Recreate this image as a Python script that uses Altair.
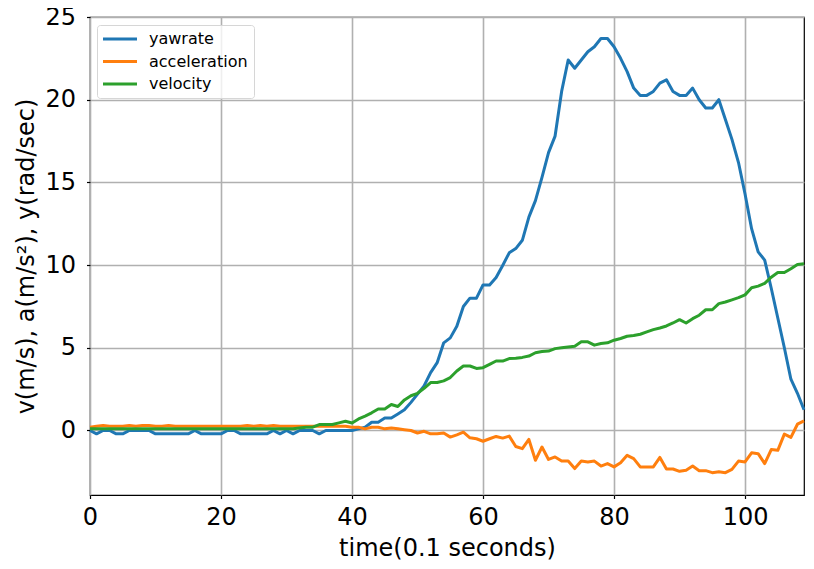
import altair as alt
import pandas as pd

t = list(range(110))

yawrate = [0, -0.2, 0, 0, -0.2, -0.2, 0, 0, 0, 0,
           -0.2, -0.2, -0.2, -0.2, -0.2, -0.2, 0, -0.2, -0.2, -0.2,
           -0.2, 0, 0, -0.2, -0.2, -0.2, -0.2, -0.2, 0, -0.2,
           0, -0.2, 0, 0, 0, -0.2, 0, 0, 0, 0,
           0, 0.1, 0.2, 0.5, 0.5, 0.75, 0.75, 1.0, 1.25, 1.7,
           2.2, 2.7, 3.5, 4.1, 5.3, 5.6, 6.3, 7.5, 8.0, 8.0,
           8.8, 8.8, 9.25, 9.98, 10.74, 11.0, 11.5, 12.9, 13.9, 15.3,
           16.8, 17.8, 20.5, 22.4, 21.9, 22.4, 22.9, 23.2, 23.7, 23.7,
           23.2, 22.5, 21.7, 20.7, 20.26, 20.26, 20.5, 21.0, 21.2, 20.5,
           20.26, 20.26, 20.7, 20.0, 19.5, 19.5, 20.0, 18.8, 17.6, 16.2,
           14.3, 12.2, 10.8, 10.3, 8.6, 6.8, 5.0, 3.1, 2.25, 1.25]

acceleration = [0.2, 0.25, 0.3, 0.25, 0.25, 0.25, 0.3, 0.25, 0.3, 0.3,
                0.25, 0.25, 0.3, 0.25, 0.25, 0.25, 0.25, 0.25, 0.25, 0.25,
                0.25, 0.25, 0.25, 0.25, 0.3, 0.25, 0.3, 0.25, 0.3, 0.25,
                0.25, 0.25, 0.25, 0.25, 0.25, 0.25, 0.25, 0.25, 0.25, 0.25,
                0.2, 0.2, 0.1, 0.2, 0.2, 0.1, 0.15, 0.1, 0.05, 0.0,
                -0.15, -0.05, -0.2, -0.2, -0.15, -0.4, -0.26, -0.1, -0.44, -0.5,
                -0.65, -0.5, -0.36, -0.46, -0.34, -0.97, -1.1, -0.54, -1.8, -1.0,
                -1.75, -1.6, -1.85, -1.85, -2.3, -1.85, -1.9, -1.85, -2.15, -2.0,
                -2.2, -1.95, -1.5, -1.7, -2.2, -2.2, -2.2, -1.63, -2.33, -2.33,
                -2.47, -2.4, -2.15, -2.43, -2.43, -2.55, -2.5, -2.55, -2.35, -1.85,
                -1.9, -1.35, -1.4, -2.0, -1.15, -1.2, -0.22, -0.42, 0.38, 0.58]

velocity = [0.1, 0.1, 0.1, 0.1, 0.1, 0.1, 0.1, 0.1, 0.1, 0.1,
            0.1, 0.1, 0.1, 0.1, 0.1, 0.1, 0.1, 0.1, 0.1, 0.1,
            0.1, 0.1, 0.1, 0.1, 0.1, 0.1, 0.1, 0.1, 0.1, 0.1,
            0.1, 0.1, 0.15, 0.2, 0.2, 0.36, 0.36, 0.36, 0.46, 0.56,
            0.45, 0.7, 0.87, 1.07, 1.3, 1.3, 1.57, 1.45, 1.85, 2.1,
            2.25, 2.55, 2.9, 2.9, 3.0, 3.2, 3.6, 3.9, 3.9, 3.75,
            3.8, 4.0, 4.2, 4.2, 4.35, 4.37, 4.42, 4.5, 4.7, 4.77,
            4.8, 4.95, 5.0, 5.05, 5.1, 5.36, 5.36, 5.16, 5.26, 5.3,
            5.46, 5.56, 5.7, 5.74, 5.82, 5.96, 6.1, 6.2, 6.32, 6.5,
            6.7, 6.5, 6.76, 6.97, 7.3, 7.3, 7.67, 7.77, 7.9, 8.03,
            8.2, 8.63, 8.73, 8.9, 9.27, 9.55, 9.55, 9.78, 10.04, 10.08]

series_names = ["yawrate", "acceleration", "velocity"]
series_colors = ["#1f77b4", "#ff7f0e", "#2ca02c"]
x_ticks = [0, 20, 40, 60, 80, 100]
y_ticks = [0, 5, 10, 15, 20, 25]

rows = []
for name, vals in zip(series_names, [yawrate, acceleration, velocity]):
    for ti, v in zip(t, vals):
        rows.append({"t": ti, "value": v, "series": name, "ord": series_names.index(name)})
df = pd.DataFrame(rows)

FONT = "DejaVu Sans"

chart = alt.Chart(df).mark_line(strokeWidth=3, strokeCap="butt", strokeJoin="round").encode(
    x=alt.X("t:Q",
            scale=alt.Scale(domain=[0, 109], nice=False, zero=False),
            axis=alt.Axis(values=x_ticks, title="time(0.1 seconds)", grid=True,
                          labelFontSize=24, titleFontSize=24, labelPadding=7,
                          labelFlush=False,
                          tickSize=3.5, titleY=60, titleBaseline="alphabetic")),
    y=alt.Y("value:Q",
            scale=alt.Scale(domain=[-3.9, 25], nice=False, zero=False),
            axis=alt.Axis(values=y_ticks, title="v(m/s), a(m/s²), y(rad/sec)", grid=True,
                          labelFontSize=24, titleFontSize=24, labelPadding=11,
                          labelFlush=False,
                          tickSize=3.5, titleX=-57, titleY=239, titleAngle=-90,
                          titleBaseline="alphabetic", titleAlign="center")),
    color=alt.Color("series:N",
                    scale=alt.Scale(domain=series_names, range=series_colors),
                    legend=alt.Legend(title=None, orient="none", legendX=7, legendY=8,
                                      symbolType="M-1.333,0H4.333", symbolSize=144,
                                      symbolStrokeWidth=3, labelFontSize=16,
                                      labelFont=FONT, rowPadding=6.5, labelOffset=30,
                                      padding=6, fillColor="rgba(255,255,255,0.8)",
                                      strokeColor="#d6d6d6", cornerRadius=3)),
    order=alt.Order("ord:Q"),
    detail="series:N",
).properties(
    width=714, height=478,
    padding={"left": 82, "top": 9, "right": 2, "bottom": 65},
    autosize=alt.AutoSizeParams(type="none"),
).configure_axis(
    labelFont=FONT, titleFont=FONT, labelColor="black", titleColor="black",
    domain=False, tickColor="black", tickWidth=1.2,
    gridColor="#b0b0b0", gridWidth=1.6, titleFontWeight="normal",
).configure_view(
    stroke="black", strokeWidth=1.2,
)

chart.save("out.html", embed_options={"renderer": "svg", "actions": False})
